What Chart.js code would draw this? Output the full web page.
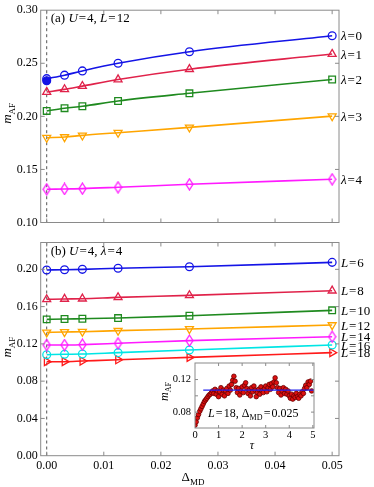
<!DOCTYPE html>
<html>
<head>
<meta charset="utf-8">
<script src="https://cdn.jsdelivr.net/npm/chart.js@4.4.0/dist/chart.umd.min.js"></script>
<style>
  body { margin: 0; background: #fff; }
  #wrap { position: relative; width: 374px; height: 487px; overflow: hidden; }
  canvas { position: absolute; }
</style>
</head>
<body>
<div id="wrap">
  <canvas id="topChart" style="left:0;top:0" width="374" height="240"></canvas>
  <canvas id="botChart" style="left:0;top:230px" width="374" height="257"></canvas>
  <canvas id="insetChart" style="left:160px;top:352px" width="160" height="103"></canvas>
</div>
<script>
// x values (Delta_MD) shared by both panels
const deltaMD = [0, 0.003125, 0.00625, 0.0125, 0.025, 0.05];

// panel (a): U=4, L=12, different lambda
const lambdaLabels = ["0", "1", "2", "3", "4"];
const mLam0 = [0.2355, 0.2388, 0.2428, 0.2500, 0.2609, 0.2759];
const mLam1 = [0.2229, 0.2254, 0.2285, 0.2347, 0.2444, 0.2587];
const mLam2 = [0.2051, 0.2077, 0.2095, 0.2145, 0.2217, 0.2347];
const mLam3 = [0.1799, 0.1805, 0.1821, 0.1846, 0.1896, 0.2002];
const mLam4 = [0.1313, 0.1316, 0.1319, 0.1332, 0.1360, 0.1407];
const mLam0Extrap = 0.2335; // filled point at Delta_MD = 0

// panel (b): U=4, lambda=4, different L
const sizeLabels = ["6", "8", "10", "12", "14", "16", "18"];
const mL6  = [0.1993, 0.1996, 0.2000, 0.2011, 0.2028, 0.2075];
const mL8  = [0.1678, 0.1682, 0.1685, 0.1699, 0.1721, 0.1771];
const mL10 = [0.1463, 0.1467, 0.1470, 0.1477, 0.1502, 0.1560];
const mL12 = [0.1324, 0.1328, 0.1331, 0.1342, 0.1360, 0.1402];
const mL14 = [0.1188, 0.1188, 0.1192, 0.1206, 0.1235, 0.1277];
const mL16 = [0.1084, 0.1088, 0.1091, 0.1106, 0.1134, 0.1188];
const mL18 = [0.1009, 0.1009, 0.1016, 0.1030, 0.1055, 0.1106];

// inset: m_AF vs tau for L=18, Delta_MD=0.025
const tau = [0, 0.05, 0.1, 0.15, 0.2, 0.25, 0.3, 0.35, 0.4, 0.45, 0.5, 0.55, 0.6, 0.65, 0.7, 0.75, 0.8, 0.85, 0.9, 0.95,
  1, 1.05, 1.1, 1.15, 1.2, 1.25, 1.3, 1.35, 1.4, 1.45, 1.5, 1.55, 1.6, 1.65, 1.7, 1.75, 1.8, 1.85, 1.9, 1.95,
  2, 2.05, 2.1, 2.15, 2.2, 2.25, 2.3, 2.35, 2.4, 2.45, 2.5, 2.55, 2.6, 2.65, 2.7, 2.75, 2.8, 2.85, 2.9, 2.95,
  3, 3.05, 3.1, 3.15, 3.2, 3.25, 3.3, 3.35, 3.4, 3.45, 3.5, 3.55, 3.6, 3.65, 3.7, 3.75, 3.8, 3.85, 3.9, 3.95,
  4, 4.05, 4.1, 4.15, 4.2, 4.25, 4.3, 4.35, 4.4, 4.45, 4.5, 4.55, 4.6, 4.65, 4.7, 4.75, 4.8, 4.85, 4.9, 4.95];
const mTau = [0.064, 0.068, 0.073, 0.077, 0.081, 0.084, 0.087, 0.090, 0.093, 0.095, 0.097, 0.099, 0.101, 0.102, 0.104, 0.106, 0.103, 0.108, 0.102, 0.106,
  0.099, 0.105, 0.110, 0.102, 0.107, 0.100, 0.106, 0.109, 0.103, 0.112, 0.107, 0.114, 0.119, 0.124, 0.118, 0.110, 0.104, 0.109, 0.101, 0.106,
  0.111, 0.104, 0.113, 0.116, 0.109, 0.103, 0.107, 0.100, 0.110, 0.105, 0.112, 0.107, 0.099, 0.104, 0.108, 0.102, 0.111, 0.106, 0.104, 0.109,
  0.112, 0.105, 0.110, 0.114, 0.108, 0.115, 0.111, 0.117, 0.122, 0.116, 0.110, 0.104, 0.109, 0.101, 0.106, 0.110, 0.103, 0.108, 0.102, 0.106,
  0.100, 0.097, 0.102, 0.096, 0.100, 0.098, 0.103, 0.099, 0.097, 0.102, 0.100, 0.105, 0.103, 0.109, 0.113, 0.110, 0.117, 0.114, 0.118, 0.106];
const meanTau = [0.35, 5.05];
const meanM = [0.107, 0.107];

const FAMILY = "'Liberation Serif', serif";
const FRAME = "#8a8a8a";

function pts(xs, ys) {
  return xs.map((x, i) => ({ x: x, y: ys[i] }));
}

// draws text made of pieces: [text, style] with style "" | "i" (italic) | "s" (subscript) | "g" (gap of p[2] px)
function drawRich(ctx, parts, x, y, size, align) {
  const fontOf = p => (p[1] === "i" ? "italic " : "") + (p[1] === "s" ? Math.round(size * 0.68) : size) + "px " + FAMILY;
  const widthOf = p => { if (p[1] === "g") return p[2]; ctx.font = fontOf(p); return ctx.measureText(p[0]).width; };
  let w = 0;
  parts.forEach(p => { w += widthOf(p); });
  let cx = align === "center" ? x - w / 2 : x;
  ctx.textAlign = "left";
  ctx.textBaseline = "alphabetic";
  ctx.fillStyle = "#000";
  parts.forEach(p => {
    if (p[1] !== "g") {
      ctx.font = fontOf(p);
      ctx.fillText(p[0], cx, y + (p[1] === "s" ? size * 0.28 : 0));
    }
    cx += widthOf(p);
  });
}

function eq(v, gap) {
  return [["", "g", gap], ["=", ""], ["", "g", gap], [v, ""]];
}

// narrow diamond marker like the reference
function diamondMarker(color) {
  const c = document.createElement("canvas");
  c.width = 9; c.height = 13;
  const g = c.getContext("2d");
  g.strokeStyle = color;
  g.lineWidth = 1.3;
  g.beginPath();
  g.moveTo(4.5, 1); g.lineTo(8, 6.5); g.lineTo(4.5, 12); g.lineTo(1, 6.5); g.closePath();
  g.stroke();
  return c;
}

// frame with inward ticks on all four sides
const framePlugin = {
  id: "frame",
  beforeDatasetsDraw(chart, args, opts) {
    const ctx = chart.ctx, a = chart.chartArea;
    if (!opts.zeroLine) return;
    const px = chart.scales.x.getPixelForValue(0);
    ctx.save();
    ctx.strokeStyle = "#555";
    ctx.lineWidth = 1;
    ctx.setLineDash([3, 3]);
    ctx.beginPath();
    ctx.moveTo(px, a.top);
    ctx.lineTo(px, a.bottom);
    ctx.stroke();
    ctx.restore();
  },
  afterDraw(chart, args, opts) {
    const ctx = chart.ctx, a = chart.chartArea;
    const len = opts.tickLen || 4;
    ctx.save();
    ctx.strokeStyle = FRAME;
    ctx.lineWidth = 1;
    ctx.strokeRect(a.left, a.top, a.right - a.left, a.bottom - a.top);
    ctx.beginPath();
    chart.scales.x.ticks.forEach(t => {
      const px = chart.scales.x.getPixelForValue(t.value);
      if (px < a.left + 1 || px > a.right - 1) return;
      ctx.moveTo(px, a.bottom); ctx.lineTo(px, a.bottom - len);
      ctx.moveTo(px, a.top); ctx.lineTo(px, a.top + len);
    });
    chart.scales.y.ticks.forEach(t => {
      const py = chart.scales.y.getPixelForValue(t.value);
      if (py < a.top + 1 || py > a.bottom - 1) return;
      ctx.moveTo(a.left, py); ctx.lineTo(a.left + len, py);
      ctx.moveTo(a.right, py); ctx.lineTo(a.right - len, py);
    });
    ctx.stroke();
    ctx.restore();
  }
};

// texts: panel label, axis titles, line labels on the right
const textPlugin = {
  id: "texts",
  afterDraw(chart, args, opts) {
    const ctx = chart.ctx, a = chart.chartArea;
    ctx.save();
    if (opts.panel) drawRich(ctx, opts.panel, a.left + 10, a.top + 12, 13, "left");
    if (opts.yTitle) {
      ctx.save();
      ctx.translate(opts.yTitle.x, (a.top + a.bottom) / 2 + (opts.yTitle.dy || 0));
      ctx.rotate(-Math.PI / 2);
      drawRich(ctx, [["m", "i"], ["AF", "s"]], 0, 0, opts.yTitle.size, "center");
      ctx.restore();
    }
    if (opts.xTitle) drawRich(ctx, opts.xTitle.parts, opts.xTitle.x, opts.xTitle.y, opts.xTitle.size, "center");
    if (opts.note) drawRich(ctx, opts.note.parts, opts.note.x, opts.note.y, opts.note.size, "left");
    if (opts.lineLabels) {
      opts.lineLabels.forEach((parts, i) => {
        const meta = chart.getDatasetMeta(i);
        const last = meta.data[meta.data.length - 1];
        drawRich(ctx, parts, a.right + 2, last.y + 4.5, 13, "left");
      });
    }
    ctx.restore();
  }
};

function series(label, ys, color, style, rot) {
  const radius = { circle: 3.9, triangle: 4.6, rect: 4.7 };
  return {
    label: label,
    data: pts(deltaMD, ys),
    borderColor: color,
    backgroundColor: color,
    borderWidth: 1.6,
    pointStyle: style === "diamond" ? diamondMarker(color) : style,
    pointRotation: rot || 0,
    pointRadius: radius[style] || 4.5,
    pointBorderWidth: 1.3,
    pointBorderColor: color,
    pointBackgroundColor: "rgba(255,255,255,0)",
    showLine: true,
    cubicInterpolationMode: "monotone",
    fill: false
  };
}

const tickFont = { family: FAMILY, size: 12 };

function mainOptions(ymin, ymax, ystep, topPad, xHeight, showXLabels, texts) {
  return {
    responsive: false,
    animation: false,
    devicePixelRatio: 1,
    layout: { padding: { left: 0, right: 35, top: topPad, bottom: 0 } },
    plugins: { legend: { display: false }, tooltip: { enabled: false }, frame: { zeroLine: true }, texts: texts },
    scales: {
      x: {
        type: "linear", min: -0.00105, max: 0.0512,
        grid: { display: false, drawTicks: false }, border: { display: false },
        ticks: { stepSize: 0.01, includeBounds: false, display: showXLabels, padding: 3, color: "#000", font: tickFont, maxRotation: 0,
                 callback: v => v.toFixed(2) },
        afterFit: s => { s.height = xHeight; }
      },
      y: {
        type: "linear", min: ymin, max: ymax,
        grid: { display: false, drawTicks: false }, border: { display: false },
        ticks: { stepSize: ystep, includeBounds: false, padding: 3, color: "#000", font: tickFont,
                 callback: v => v.toFixed(2) },
        afterFit: s => { s.width = 40.7; }
      }
    }
  };
}

const lamParts = lambdaLabels.map(v => [["λ", "i"]].concat(eq(v, 0.8)));
const sizeParts = sizeLabels.map(v => [["L", "i"]].concat(eq(v, 0.8)));

new Chart(document.getElementById("topChart"), {
  type: "scatter",
  data: {
    datasets: [
      series("λ=0", mLam0, "#1414e6", "circle"),
      series("λ=1", mLam1, "#e0224a", "triangle"),
      series("λ=2", mLam2, "#1f8a1f", "rect"),
      series("λ=3", mLam3, "#ffa500", "triangle", 180),
      series("λ=4", mLam4, "#ff1aff", "diamond"),
      {
        label: "λ=0 (Δ=0)",
        data: [{ x: 0, y: mLam0Extrap }],
        pointStyle: "circle", pointRadius: 3.9, pointBorderWidth: 1.3,
        pointBorderColor: "#1414e6", pointBackgroundColor: "#1414e6", showLine: false
      }
    ]
  },
  options: mainOptions(0.10, 0.30, 0.05, 8.5, 17.5, false, {
    panel: [["(a) ", ""], ["U", "i"]].concat(eq("4, ", 1), [["L", "i"]], eq("12", 1)),
    yTitle: { x: 11, size: 13, dy: -3 },
    lineLabels: lamParts
  }),
  plugins: [framePlugin, textPlugin]
});

new Chart(document.getElementById("botChart"), {
  type: "scatter",
  data: {
    datasets: [
      series("L=6", mL6, "#1414e6", "circle"),
      series("L=8", mL8, "#e0224a", "triangle"),
      series("L=10", mL10, "#1f8a1f", "rect"),
      series("L=12", mL12, "#ffa500", "triangle", 180),
      series("L=14", mL14, "#ff1aff", "diamond"),
      series("L=16", mL16, "#00e5e5", "circle"),
      series("L=18", mL18, "#ff1a1a", "triangle", 90)
    ]
  },
  options: mainOptions(0, 0.2288, 0.04, 12.5, 31.3, true, {
    panel: [["(b) ", ""], ["U", "i"]].concat(eq("4, ", 1), [["λ", "i"]], eq("4", 1)),
    yTitle: { x: 11, size: 13, dy: -2 },
    xTitle: { parts: [["Δ", ""], ["MD", "s"]], x: 193, y: 251, size: 13 },
    lineLabels: sizeParts
  }),
  plugins: [framePlugin, textPlugin]
});

const insetFont = { family: FAMILY, size: 10.5 };

new Chart(document.getElementById("insetChart"), {
  type: "scatter",
  data: {
    datasets: [
      {
        label: "mean",
        data: pts(meanTau, meanM),
        showLine: true, borderColor: "#2020ee", borderWidth: 1.2, pointRadius: 0
      },
      {
        label: "MC",
        data: pts(tau, mTau),
        pointStyle: "circle", pointRadius: 2.3, pointBorderWidth: 0.8,
        pointBackgroundColor: "#dd1010", pointBorderColor: "#6a0000", showLine: false
      }
    ]
  },
  options: {
    responsive: false,
    animation: false,
    devicePixelRatio: 1,
    layout: { padding: { left: 0, right: 6, top: 11, bottom: 0 } },
    plugins: {
      legend: { display: false }, tooltip: { enabled: false },
      frame: { zeroLine: false, tickLen: 3 },
      texts: {
        yTitle: { x: 8, size: 12, dy: -4 },
        xTitle: { parts: [["τ", "i"]], x: 92, y: 97, size: 12 },
        note: { parts: [["L", "i"]].concat(eq("18, Δ", 1.2), [["MD", "s"]], eq("0.025", 1.2)), x: 48, y: 64.5, size: 12 }
      }
    },
    scales: {
      x: {
        type: "linear", min: 0, max: 5.05,
        grid: { display: false, drawTicks: false }, border: { display: false },
        ticks: { stepSize: 1, includeBounds: false, padding: 1, color: "#000", font: insetFont, maxRotation: 0 },
        afterFit: s => { s.height = 27; }
      },
      y: {
        type: "linear", min: 0.0605, max: 0.1403,
        grid: { display: false, drawTicks: false }, border: { display: false },
        ticks: { stepSize: 0.02, includeBounds: false, padding: 4, color: "#000", font: insetFont,
                 callback: v => (Math.abs(v - 0.08) < 1e-6 || Math.abs(v - 0.12) < 1e-6) ? v.toFixed(2) : "" },
        afterFit: s => { s.width = 35; }
      }
    }
  },
  plugins: [
    {
      id: "whiteBg",
      beforeDraw(chart) {
        const a = chart.chartArea;
        chart.ctx.save();
        chart.ctx.fillStyle = "#fff";
        chart.ctx.fillRect(a.left, a.top, a.right - a.left, a.bottom - a.top);
        chart.ctx.restore();
      }
    },
    framePlugin, textPlugin
  ]
});
</script>
</body>
</html>
